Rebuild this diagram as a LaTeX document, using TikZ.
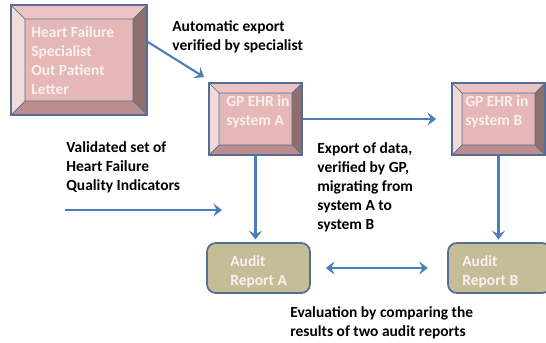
\documentclass[tikz,border=0pt]{standalone}
\usepackage{fontspec}
\setmainfont{Carlito}
\usetikzlibrary{arrows.meta,fit}
\definecolor{facepink}{RGB}{229,184,183}
\definecolor{toppink}{RGB}{234,196,195}
\definecolor{leftpink}{RGB}{242,218,217}
\definecolor{rightpink}{RGB}{143,110,110}
\definecolor{botpink}{RGB}{186,142,141}
\definecolor{edgeblue}{RGB}{86,110,150}
\definecolor{arrowblue}{RGB}{74,126,187}
\definecolor{audittan}{RGB}{196,189,151}
\definecolor{boxwhite}{RGB}{250,240,240}
\tikzset{
  flow/.style={draw=arrowblue, line width=1.2pt,
    -{Stealth[length=5pt,width=7.5pt,inset=2pt]}},
  boxtext/.style={text=boxwhite, font=\bfseries\fontsize{8.8}{10.8}\selectfont,
    align=left, inner sep=0pt, anchor=base west},
  note/.style={text=black, font=\bfseries\fontsize{8.8}{10.8}\selectfont,
    align=left, inner sep=0pt, anchor=base west},
  audit/.style={draw=edgeblue, line width=1pt, fill=audittan,
    rounded corners=5pt, inner sep=0pt}
}
% bevelled box: name, x1, y1, x2, y2, bevel
\newcommand{\bevelbox}[6]{%
  \fill[toppink] (#2,#3) -- (#4,#3) -- ({#4-#6},{#3+#6}) -- ({#2+#6},{#3+#6}) -- cycle;
  \fill[leftpink] (#2,#3) -- ({#2+#6},{#3+#6}) -- ({#2+#6},{#5-#6}) -- (#2,#5) -- cycle;
  \fill[rightpink] (#4,#3) -- (#4,#5) -- ({#4-#6},{#5-#6}) -- ({#4-#6},{#3+#6}) -- cycle;
  \fill[botpink] (#2,#5) -- (#4,#5) -- ({#4-#6},{#5-#6}) -- ({#2+#6},{#5-#6}) -- cycle;
  \fill[facepink] ({#2+#6},{#3+#6}) rectangle ({#4-#6},{#5-#6});
  \draw[edgeblue, line width=0.4pt] ({#2+#6},{#3+#6}) rectangle ({#4-#6},{#5-#6})
    (#2,#3) -- ({#2+#6},{#3+#6}) (#4,#3) -- ({#4-#6},{#3+#6})
    (#2,#5) -- ({#2+#6},{#5-#6}) (#4,#5) -- ({#4-#6},{#5-#6});
  \node[fit={(#2,#3) (#4,#5)}, inner sep=0pt, draw=edgeblue, line width=1pt] (#1) {};
}
\begin{document}
\begin{tikzpicture}[x=0.02cm, y=-0.02cm]
\useasboundingbox (0,0) rectangle (546,342);
% boxes
\bevelbox{letter}{11}{5}{147}{115}{14}
\bevelbox{gpA}{209}{83}{302}{155}{10}
\bevelbox{gpB}{452}{83}{545}{155}{10}
\node[audit, minimum width=103*0.02cm, minimum height=50*0.02cm] (auditA) at (258.5,268) {};
\node[audit, minimum width=103*0.02cm, minimum height=50*0.02cm] (auditB) at (499.5,268) {};
% texts in boxes (anchored on the last line)
\node[boxtext] (letter-text) at (31,94) {Heart Failure\\Specialist\\Out Patient\\Letter};
\node[boxtext] (gpA-text) at (226,125) {GP EHR in\\system A};
\node[boxtext] (gpB-text) at (465,125) {GP EHR in\\system B};
\node[boxtext] (auditA-text) at (230,285) {Audit\\Report A};
\node[boxtext] (auditB-text) at (462,285) {Audit\\Report B};
% notes
\node[note] (export-note) at (172,50) {Automatic export\\verified by specialist};
\node[note] (qi-note) at (66,190) {Validated set of\\Heart Failure\\Quality Indicators};
\node[note] (migrate-note) at (317,229) {Export of data,\\verified by GP,\\migrating from\\system A to\\system B};
\node[note] (eval-note) at (290,336) {Evaluation by comparing the\\results of two audit reports};
% connectors
\coordinate (qi-start) at (65,210);
\coordinate (qi-end) at (222,210);
\draw[flow] (letter.east) ++(0,-18) -- ([shift={(-4,-5)}]gpA.north west);
\draw[flow, shorten >=8.5pt] (gpA.east) -- (gpB.west);
\draw[flow, shorten >=1.5pt] (gpA.south) -- (gpA.south |- auditA.north);
\draw[flow, shorten >=1.5pt] (gpB.south) -- (gpB.south |- auditB.north);
\draw[flow, {Stealth[length=5pt,width=7.5pt,inset=2pt]}-{Stealth[length=5pt,width=7.5pt,inset=2pt]},
  shorten <=8.5pt, shorten >=11pt] (auditA) -- (auditB);
\draw[flow] (qi-start) -- (qi-end);
\end{tikzpicture}
\end{document}
